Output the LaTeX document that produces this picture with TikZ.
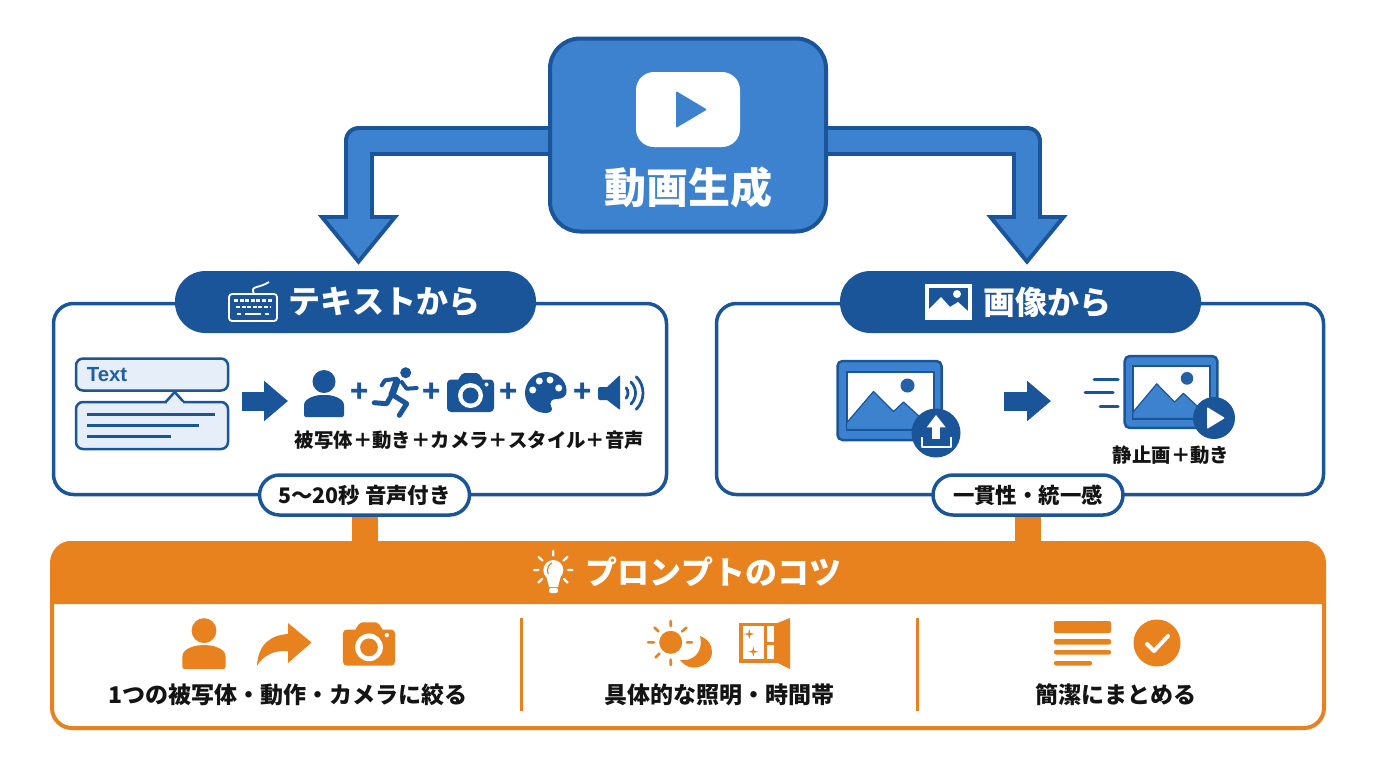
\documentclass[tikz,border=0pt]{standalone}
\usepackage{fontspec}
\setmainfont{Noto Sans CJK JP}
\newfontfamily\latinfont{Liberation Sans}
\usepackage{xcolor}
\usetikzlibrary{arrows.meta}
\usetikzlibrary{positioning}
\definecolor{darkblue}{HTML}{1B5599}
\definecolor{midblue}{HTML}{3C82CE}
\definecolor{paleblue}{HTML}{E6EFF9}
\definecolor{tiporange}{HTML}{E8821E}
\definecolor{inkblack}{HTML}{141414}
\tikzset{
  % Icons drawn around their own centre, #1 is the colour
  pics/person/.style={code={
    \fill [#1] (0,-11.5) circle (11.5);
    \fill [#1, rounded corners=1pt] (-20,24) -- (-20,14) .. controls (-20,6) and (-10,2) .. (0,2)
      .. controls (10,2) and (20,6) .. (20,14) -- (20,24) -- cycle;
  }},
  pics/camera/.style={code={
    \fill [#1, rounded corners=2pt] (-23.5,-13) rectangle (23.5,19.5);
    \fill [#1, rounded corners=1pt] (-13,-12) -- (-8,-19.5) -- (8,-19.5) -- (13,-12) -- cycle;
    \fill [white] (0,3) circle (12.5);
    \fill [#1] (0,3) circle (8);
    \fill [white] (16,-8) circle (2);
  }},
  pics/mountain/.style={code={
    \draw [darkblue, fill=midblue, line width=1.25pt, rounded corners=2.5pt] (-52,-39.5) rectangle (52,39.5);
    \draw [darkblue, fill=white, line width=1pt] (-43,-29) rectangle (44,29.5);
    \draw [darkblue, fill=midblue, line width=0.6pt, line join=round] (-43,22.5) -- (-16,-9) -- (4,11) -- (14,1.5) -- (43,28) -- (43,29) -- (-43,29) -- cycle;
    \fill [darkblue!75!midblue] (18,-15) circle (7);
  }}
}

\begin{document}
\begin{tikzpicture}[x=0.5pt, y=-0.5pt, thick]
    % Define styles
    \tikzstyle{mainblock} = [rectangle, draw=darkblue, fill=midblue, line width=2pt, rounded corners=15pt, minimum width=138pt, minimum height=96.5pt]
    \tikzstyle{panel} = [rectangle, draw=darkblue, fill=white, line width=1.75pt, rounded corners=10pt, minimum height=95.5pt]
    \tikzstyle{pill} = [rectangle, fill=darkblue, rounded corners=15.2pt, minimum width=180.5pt, minimum height=31pt]
    \tikzstyle{pilltext} = [text=white, inner sep=0pt, font=\fontsize{16pt}{19pt}\selectfont\bfseries]
    \tikzstyle{badge} = [rectangle, draw=darkblue, fill=white, line width=1.75pt, rounded corners=10pt, minimum height=20pt, inner sep=0pt, text=inkblack, font=\fontsize{10.7pt}{13pt}\selectfont\bfseries]
    \tikzstyle{caption} = [text=inkblack, inner sep=0pt, font=\fontsize{9.7pt}{12pt}\selectfont\bfseries]
    \tikzstyle{tiptext} = [text=inkblack, inner sep=0pt, font=\fontsize{11.5pt}{14pt}\selectfont\bfseries]
    \tikzstyle{plussign} = [text=darkblue, inner sep=0pt, font=\fontsize{15pt}{15pt}\selectfont\bfseries]
    \tikzstyle{typebox} = [rectangle, draw=darkblue, fill=paleblue, line width=1.25pt, rounded corners=3.5pt, minimum width=76pt]
    \tikzstyle{bigout} = [draw=darkblue, line width=15pt, line join=round, -{Triangle[length=25pt, width=39pt]}]
    \tikzstyle{bigin} = [draw=midblue, line width=11pt, line join=round, shorten >=3.25pt, -{Triangle[length=19.75pt, width=30.8pt]}]
    \tikzstyle{stepline} = [draw=darkblue, line width=9.5pt, -{Triangle[length=12pt, width=19.5pt]}]
    \tikzstyle{orangeline} = [draw=tiporange, line width=13pt]
    \tikzstyle{divider} = [draw=tiporange, line width=1.5pt]

    \useasboundingbox [fill=white] (0,0) rectangle (1376,768);

    % Place nodes
    \node [mainblock] (main) at (688,135) {};
    \node [rectangle, fill=white, rounded corners=9pt, minimum width=52pt, minimum height=37.5pt] (playbox) at (688,109.5) {};
    \node [text=white, inner sep=0pt, font=\fontsize{21pt}{25pt}\selectfont\bfseries] (title) at (688,187) {動画生成};

    \node [panel, minimum width=306.5pt] (leftpanel) at (360,399) {};
    \node [pill] (leftpill) at (355.5,302) {};
    \node [pilltext] (lefthead) at (384.5,302) {テキストから};

    \node [panel, minimum width=303.5pt] (rightpanel) at (1020,399) {};
    \node [pill] (rightpill) at (1020.5,302) {};
    \node [pilltext] (righthead) at (1047,302) {画像から};

    \node [rectangle, draw=tiporange, fill=white, line width=2pt, rounded corners=10pt, minimum width=636pt, minimum height=92.5pt] (tipsbox) at (688,635.5) {};
    % Orange heading band
    \fill [tiporange] (51,604) -- (51,561) arc (180:270:20) -- (1305,541) arc (270:360:20) -- (1325,604) -- cycle;
    \node [text=white, inner sep=0pt, font=\fontsize{16pt}{19pt}\selectfont\bfseries] (tipshead) at (713.5,572) {プロンプトのコツ};

    \node [badge, minimum width=105pt] (leftbadge) at (364.5,495) {5〜20秒 音声付き};
    \node [badge, minimum width=95pt] (rightbadge) at (1028,495) {一貫性・統一感};

    \node [typebox, minimum height=16pt] (textupper) at (152,374.5) {};
    \node [anchor=west, inner sep=0pt, text=darkblue!80!midblue, font=\fontsize{10.2pt}{12pt}\latinfont\bfseries] (texttag) at (86,375) {Text};
    \node [typebox, minimum height=23.5pt] (textlower) at (152,425.5) {};

    \node [plussign] (plusa) at (360,393) {+};
    \node [plussign] (plusb) at (432,393) {+};
    \node [plussign] (plusc) at (509,393) {+};
    \node [plussign] (plusd) at (583,393) {+};
    \node [caption] (leftcaption) at (469.5,440) {被写体＋動き＋カメラ＋スタイル＋音声};
    \node [caption] (rightcaption) at (1171,455) {静止画＋動き};

    \node [tiptext] (tipa) at (288,695) {1つの被写体・動作・カメラに絞る};
    \node [tiptext] (tipb) at (719,695) {具体的な照明・時間帯};
    \node [tiptext] (tipc) at (1116,695) {簡潔にまとめる};

    \coordinate (leftbend) at (358.5,141);
    \coordinate (lefttip) at (358.5,265);
    \coordinate (rightbend) at (1027,141);
    \coordinate (righttip) at (1027,265);
    \coordinate (leftfrom) at (242,401);
    \coordinate (leftto) at (288,401);
    \coordinate (rightfrom) at (1004,401);
    \coordinate (rightto) at (1051,401);
    \coordinate (dividera) at (521,618);
    \coordinate (dividerb) at (521,711);
    \coordinate (dividerc) at (917,618);
    \coordinate (dividerd) at (917,711);

    % Draw edges
    \path [bigout] (main.west |- leftbend) -- (leftbend) -- (lefttip);
    \path [bigin] (main.west |- leftbend) -- (leftbend) -- (lefttip);
    \path [bigout] (main.east |- rightbend) -- (rightbend) -- (righttip);
    \path [bigin] (main.east |- rightbend) -- (rightbend) -- (righttip);
    \path [stepline] (leftfrom) -- (leftto);
    \path [stepline] (rightfrom) -- (rightto);
    \path [orangeline] (leftbadge.south) -- (leftbadge.south |- tipsbox.north);
    \path [orangeline] (rightbadge.south) -- (rightbadge.south |- tipsbox.north);
    \path [divider] (dividera) -- (dividerb);
    \path [divider] (dividerc) -- (dividerd);

    % Play sign
    \fill [midblue, rounded corners=0.5pt] (676,91) -- (707,109.5) -- (676,128) -- cycle;

    % Keyboard
    \draw [white, line width=0.9pt, rounded corners=1.5pt] (229,294) rectangle (277,321);
    \draw [white, line width=0.9pt] (254,294) .. controls (250,285) and (258,289) .. (269,282);
    \draw [white, line width=1.4pt, dash pattern=on 2pt off 0.8pt] (234,300.5) -- (272,300.5);
    \draw [white, line width=1.4pt, dash pattern=on 2pt off 0.8pt] (236,307) -- (270,307);
    \draw [white, line width=1.4pt] (237,314) -- (241,314) (245,314) -- (261,314) (265,314) -- (269,314);

    % Picture sign in the heading
    \fill [white] (925,284) rectangle (972,320);
    \fill [darkblue] (929,288) rectangle (968,316);
    \fill [white] (929,309) -- (941,297) -- (950,307) -- (958,302) -- (968,311) -- (968,316) -- (929,316) -- cycle;
    \fill [white] (957,294) circle (4);

    % Text boxes
    \draw [darkblue, fill=paleblue, line width=1.25pt, line join=round] (165.7,402) -- (174.7,392) -- (183.7,402);
    \fill [paleblue] (166.5,401.5) rectangle (183,404.5);
    \draw [darkblue, line width=1.5pt] (87,414) -- (215,414) (87,425) -- (199,425) (87,436) -- (171,436);

    % Row of icons
    \pic at (324,393) {person=darkblue};
    \fill [darkblue] (405.7,372.7) circle (5.5);
    \draw [darkblue, line width=3.5pt, line cap=round] (397,381) -- (392,395);
    \draw [darkblue, line width=2.5pt, line cap=round, line join=round] (391.7,395) -- (386.7,403.7) -- (374.3,402.7) (393.3,395.3) -- (406.7,403.7) -- (399.3,415.3);
    \draw [darkblue, line width=2pt, line cap=round, line join=round] (396.7,378.7) -- (385,380.3) -- (381.7,385.3) (401.7,382) -- (406.7,388.7) -- (416.7,388);
    \pic at (470.5,392.5) {camera=darkblue};
    \fill [darkblue] (566.5,390) .. controls (566,380) and (557,372) .. (546,372) .. controls (534,372) and (525,382) .. (525,393) .. controls (525,405) and (535,413) .. (546,413) .. controls (552,413) and (553,409) .. (551,406) .. controls (549,402) and (552,399) .. (556,399) .. controls (562,399) and (567,397) .. (566.5,390) -- cycle;
    \fill [white] (532.7,390) circle (3.5) (539.3,381) circle (3.5) (550,380) circle (3.5) (558.7,388) circle (3.5);
    \fill [darkblue, rounded corners=1pt] (598,387) rectangle (610,400);
    \fill [darkblue, rounded corners=0.5pt] (607,387) -- (620,375) -- (620,410) -- (607,400) -- cycle;
    \draw [darkblue, line width=1.4pt, line cap=round] (620,393) ++(-40:8) arc (-40:40:8);
    \draw [darkblue, line width=1.4pt, line cap=round] (620,393) ++(-45:15.5) arc (-45:45:15.5);
    \draw [darkblue, line width=1.4pt, line cap=round] (620,393) ++(-45:23) arc (-45:45:23);

    % Pictures
    \pic at (889.5,400.5) {mountain};
    \fill [darkblue] (936,433) circle (24.5);
    \fill [white] (936,415) -- (945.7,427.3) -- (926.7,427.3) -- cycle;
    \draw [white, line width=4pt] (936,426) -- (936,439);
    \draw [white, line width=1.3pt, line join=round] (922,437) -- (922,447) -- (951,447) -- (951,437);
    \draw [darkblue, line width=1.5pt, line cap=round] (1094,379) -- (1118,379) (1085,392) -- (1113,392) (1100,406) -- (1118,406);
    \pic [xscale=0.89, yscale=0.91] at (1171,392) {mountain};
    \fill [darkblue] (1214,418) circle (21);
    \fill [white, rounded corners=0.5pt] (1207,407) -- (1225,418) -- (1207,429) -- cycle;

    % Bulb
    \fill [white] (553.3,570) circle (10);
    \fill [white] (546,575) -- (561,575) -- (558,587) -- (549,587) -- cycle;
    \fill [white, rounded corners=1pt] (549,588) rectangle (558,593);
    \draw [tiporange, line width=0.6pt] (548,574) .. controls (546.5,568) and (549,564) .. (552,563);
    \draw [white, line width=1.1pt, line cap=round] (553.3,551) -- (553.3,555.5) (534,570) -- (538.5,570) (568,570) -- (572.5,570) (538.5,557) -- (542.5,560.5) (567.5,557) -- (563.5,560.5) (538.5,582.5) -- (542,579) (567.5,582.5) -- (564,579);

    % Tip icons
    \pic [scale=1.08] at (204,643) {person=tiporange};
    \fill [tiporange] (257,666) .. controls (258,645) and (270,635) .. (288,634) -- (288,623) -- (311.5,642.5) -- (288,663) -- (288,651) .. controls (275,650) and (263,655) .. (257,666) -- cycle;
    \pic [scale=1.11] at (369,644) {camera=tiporange};

    \fill [tiporange] (700,636) .. controls (708,639) and (712,645) .. (712,652) .. controls (712,661) and (703,668) .. (693,667.5) .. controls (688,667.5) and (683,664) .. (680,660) .. controls (693,662) and (704,652) .. (700,636) -- cycle;
    \fill [tiporange] (670.7,642.3) circle (11.5);
    \draw [tiporange, line width=1.3pt, line cap=round] (670.7,621) -- (670.7,626) (670.7,659.5) -- (670.7,665) (648,642.3) -- (654,642.3) (687,642.3) -- (692,642.3) (654.5,627.5) -- (658.5,631.5) (686.5,627.5) -- (682,631.5) (655.5,657.5) -- (659.5,653.5);

    \fill [tiporange] (739,622.7) rectangle (779,663);
    \fill [tiporange] (778,622.7) -- (790,618) -- (790,669) -- (778,663) -- cycle;
    \fill [white] (743,626) rectangle (764,659);
    \fill [white] (767,626) rectangle (774,642);
    \fill [white] (767,645) rectangle (774,659);
    \fill [tiporange] (749.3,629) -- (750.3,633) -- (754.3,634) -- (750.3,635) -- (749.3,639) -- (748.3,635) -- (744.3,634) -- (748.3,633) -- cycle;
    \fill [tiporange] (753.3,646.7) -- (754.3,650.7) -- (758.3,651.7) -- (754.3,652.7) -- (753.3,656.7) -- (752.3,652.7) -- (748.3,651.7) -- (752.3,650.7) -- cycle;

    \fill [tiporange, rounded corners=1pt] (1054,621) rectangle (1111,633);
    \fill [tiporange, rounded corners=1pt] (1054,639) rectangle (1111,644.5);
    \fill [tiporange, rounded corners=1pt] (1054,650) rectangle (1111,654.5);
    \fill [tiporange, rounded corners=1pt] (1054,661) rectangle (1092,665.5);
    \fill [tiporange] (1157,643) circle (23.5);
    \draw [white, line width=2pt, line join=round, line cap=round] (1147,644) -- (1154,651) -- (1168,636);
\end{tikzpicture}
\end{document}
